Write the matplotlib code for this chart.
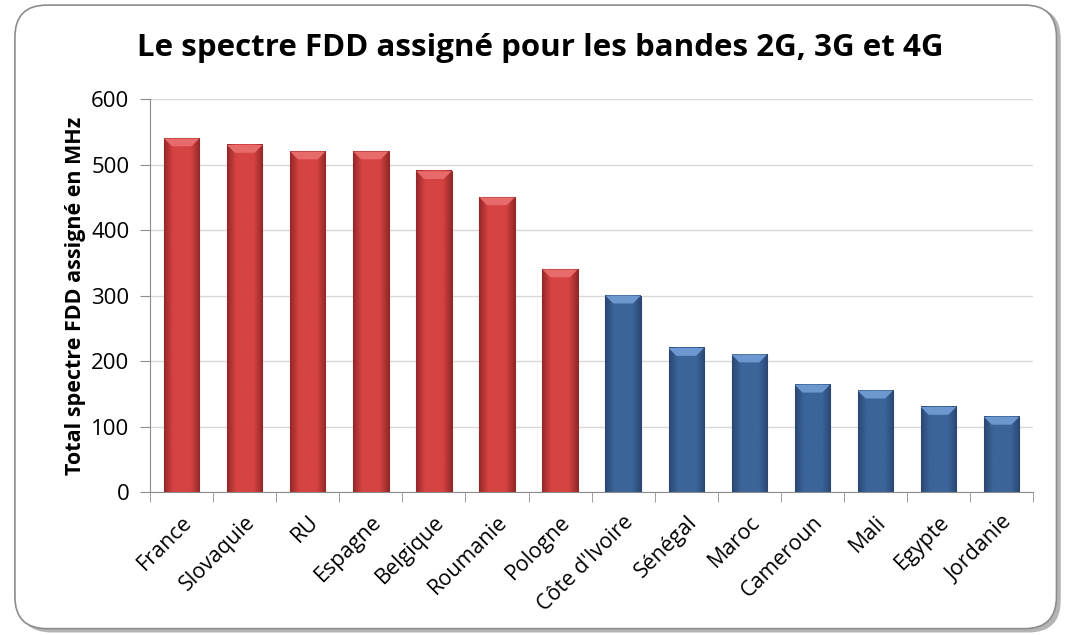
import numpy as np
import matplotlib.pyplot as plt
from matplotlib.patches import FancyBboxPatch, Polygon
from matplotlib.colors import LinearSegmentedColormap

pays = ["France", "Slovaquie", "RU", "Espagne", "Belgique", "Roumanie", "Pologne",
        "Côte d'Ivoire", "Sénégal", "Maroc", "Cameroun", "Mali", "Egypte", "Jordanie"]
spectre = [540, 530, 520, 520, 490, 450, 340, 300, 220, 210, 164, 155, 130, 115]
groupe = ["europe"] * 7 + ["afrique"] * 7

COULEURS = {"europe": ("#962828", "#d64343", "#e86a6a"),
            "afrique": ("#2a4873", "#3c659a", "#6d97cf")}

plt.rcParams['font.family'] = ['Open Sans', 'DejaVu Sans']

fig = plt.figure(figsize=(10.65, 6.35), dpi=100)

# cadre arrondi avec ombre
ombre = FancyBboxPatch((0.018, 0.004), 0.978, 0.985, boxstyle="round,pad=0,rounding_size=0.03",
                       transform=fig.transFigure, facecolor="#b5b5b5", edgecolor="none",
                       mutation_aspect=1.68, zorder=-3)
cadre = FancyBboxPatch((0.014, 0.010), 0.978, 0.982, boxstyle="round,pad=0,rounding_size=0.03",
                       transform=fig.transFigure, facecolor="white", edgecolor="#8c8c8c",
                       linewidth=1.2, mutation_aspect=1.68, zorder=-2)
fig.patches.extend([ombre, cadre])

ax = fig.add_axes([0.141, 0.225, 0.829, 0.619])
ax.patch.set_alpha(0)

largeur = 0.56
x = np.arange(len(pays))
for xi, val, g in zip(x, spectre, groupe):
    sombre, moyen, clair = COULEURS[g]
    cmap = LinearSegmentedColormap.from_list(g, [sombre, moyen, moyen, moyen, sombre])
    grad = np.linspace(0, 1, 64).reshape(1, -1)
    x0, x1 = xi - largeur / 2, xi + largeur / 2
    ax.imshow(grad, extent=(x0, x1, 0, val), aspect="auto", cmap=cmap,
              interpolation="bicubic", zorder=2)
    ax.add_patch(plt.Rectangle((x0, 0), largeur, val, fill=False,
                               edgecolor=sombre, linewidth=0.8, zorder=3))
    # biseau en haut de la barre
    h = 12
    dx = largeur * 0.22
    ax.add_patch(Polygon([(x0, val), (x1, val), (x1 - dx, val - h), (x0 + dx, val - h)],
                         closed=True, facecolor=clair, edgecolor="none", zorder=3))

ax.set_xlim(-0.5, len(pays) - 0.5)
ax.set_ylim(0, 600)
ax.set_yticks(range(0, 601, 100))
ax.tick_params(axis="y", labelsize=16, length=7, color="#8c8c8c", pad=8)
ax.yaxis.grid(True, color="#d9d9d9", linewidth=1)
ax.set_axisbelow(True)

ax.set_xticks(x)
ax.set_xticklabels(pays, rotation=45, ha="right", rotation_mode="anchor", fontsize=15.5)
ax.tick_params(axis="x", which="major", length=0, pad=14)
ax.set_xticks(np.arange(-0.5, len(pays)), minor=True)
ax.tick_params(axis="x", which="minor", length=7, color="#8c8c8c")

for s in ["top", "right"]:
    ax.spines[s].set_visible(False)
for s in ["left", "bottom"]:
    ax.spines[s].set_color("#8c8c8c")

ax.set_ylabel("Total spectre FDD assigné en MHz", fontsize=15.5, fontweight="bold", labelpad=4)
fig.text(0.507, 0.925, "Le spectre FDD assigné pour les bandes 2G, 3G et 4G",
         ha="center", va="center", fontsize=22.5, fontweight="bold")

fig.savefig("out.png", dpi=100)
